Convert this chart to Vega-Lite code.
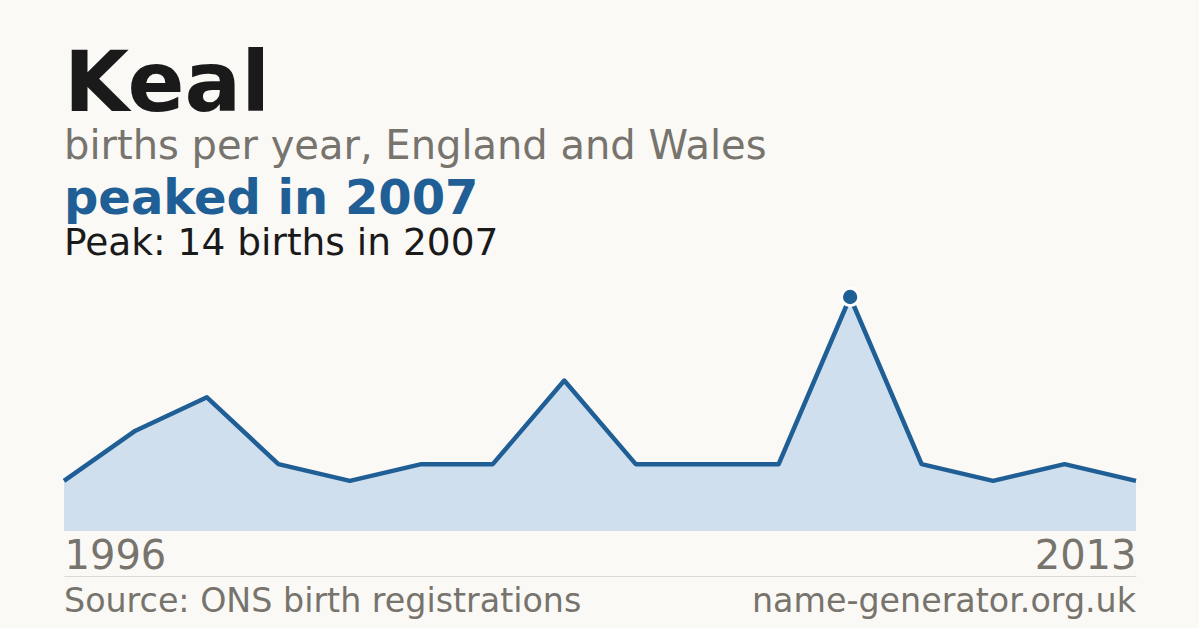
{
  "$schema": "https://vega.github.io/schema/vega-lite/v6.json",
  "background": "#faf9f5",
  "padding": {"left": 61, "right": 60, "top": 43, "bottom": 0},
  "title": {
    "text": "Keal",
    "subtitle": "births per year, England and Wales",
    "anchor": "start",
    "frame": "group",
    "font": "DejaVu Sans",
    "fontSize": 84,
    "fontWeight": "bold",
    "color": "#1a1a1a",
    "subtitleFont": "DejaVu Sans",
    "subtitleFontSize": 40,
    "subtitleColor": "#77736d",
    "subtitlePadding": -2,
    "offset": 8
  },
  "spacing": -6,
  "vconcat": [
    {
      "width": 1072,
      "height": 234,
      "data": {
        "values": [
          {"year": 1996, "births": 3},
          {"year": 1997, "births": 6},
          {"year": 1998, "births": 8},
          {"year": 1999, "births": 4},
          {"year": 2000, "births": 3},
          {"year": 2001, "births": 4},
          {"year": 2002, "births": 4},
          {"year": 2003, "births": 9},
          {"year": 2004, "births": 4},
          {"year": 2005, "births": 4},
          {"year": 2006, "births": 4},
          {"year": 2007, "births": 14},
          {"year": 2008, "births": 4},
          {"year": 2010, "births": 3},
          {"year": 2011, "births": 4},
          {"year": 2013, "births": 3}
        ]
      },
      "title": {
        "text": "peaked in 2007",
        "subtitle": "Peak: 14 births in 2007",
        "anchor": "start",
        "frame": "group",
        "font": "DejaVu Sans",
        "fontSize": 48,
        "fontWeight": "bold",
        "color": "#1f5f96",
        "subtitleFont": "DejaVu Sans",
        "subtitleFontSize": 37.5,
        "subtitleColor": "#1a1a1a",
        "subtitlePadding": 1,
        "offset": 20
      },
      "encoding": {
        "x": {
          "field": "year",
          "type": "ordinal",
          "scale": {"type": "point", "padding": 0},
          "axis": {
            "values": [1996, 2013],
            "labelFlush": true,
            "labelAngle": 0,
            "labelFontSize": 40,
            "labelColor": "#77736d",
            "labelPadding": 5,
            "domain": false,
            "ticks": false,
            "grid": false,
            "title": null
          }
        },
        "y": {
          "field": "births",
          "type": "quantitative",
          "scale": {"domain": [0, 14], "nice": false},
          "axis": null
        }
      },
      "layer": [
        {"mark": {"type": "area", "color": "#cfdfee"}},
        {"mark": {"type": "line", "color": "#1f5f96", "strokeWidth": 4.5, "strokeJoin": "round"}},
        {
          "transform": [{"filter": "datum.births == 14"}],
          "mark": {"type": "point", "filled": true, "size": 300, "fill": "#1f5f96", "stroke": "#ffffff", "strokeWidth": 3, "opacity": 1}
        }
      ]
    },
    {
      "width": 1072,
      "height": 52,
      "data": {
        "values": [
          {"side": "left", "text": "Source: ONS birth registrations"},
          {"side": "right", "text": "name-generator.org.uk"}
        ]
      },
      "encoding": {
        "x": {
          "field": "side",
          "type": "nominal",
          "scale": {"type": "point", "padding": 0, "domain": ["left", "right"]},
          "axis": {"orient": "top", "labels": false, "ticks": false, "title": null, "domainColor": "#dddad4", "domainWidth": 1}
        },
        "text": {"field": "text"}
      },
      "layer": [
        {
          "transform": [{"filter": "datum.side == 'left'"}],
          "mark": {"type": "text", "align": "left", "baseline": "middle", "fontSize": 33.3, "color": "#77736d"}
        },
        {
          "transform": [{"filter": "datum.side == 'right'"}],
          "mark": {"type": "text", "align": "right", "baseline": "middle", "fontSize": 33.3, "color": "#77736d"}
        }
      ]
    }
  ],
  "config": {"view": {"stroke": null}, "font": "DejaVu Sans"}
}
